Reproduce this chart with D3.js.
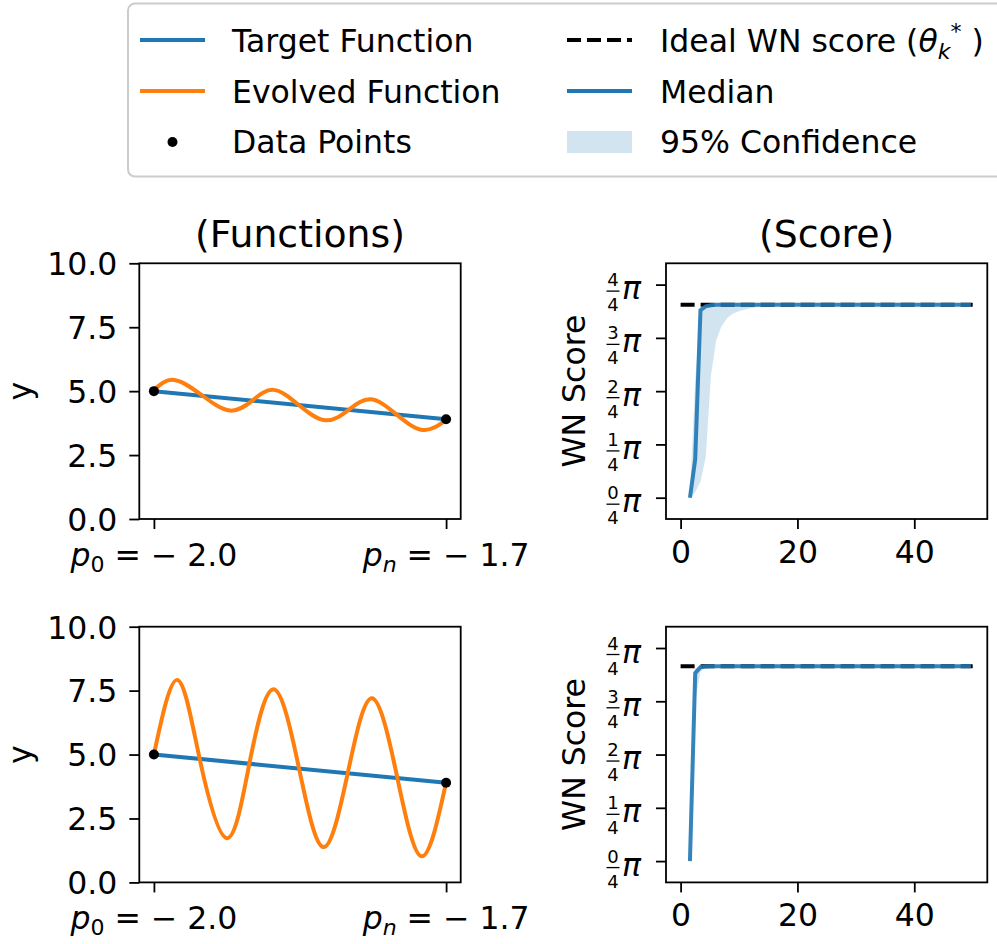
<!DOCTYPE html>
<html>
<head>
<meta charset="utf-8">
<script src="https://cdn.jsdelivr.net/npm/d3@7"></script>
<style>
body { margin: 0; background: #fff; }
text { font-family: "DejaVu Sans", sans-serif; fill: #000; }
</style>
</head>
<body>
<svg id="chart" width="997" height="944"></svg>
<script>
// ---- data ----
var targetX = [-2.0, -1.7];
var targetY = [5.0, 3.9];

var evolvedTopX = [-2.000, -1.979, -1.950, -1.922, -1.899, -1.877, -1.851, -1.824, -1.800, -1.777, -1.751, -1.724, -1.700];
var evolvedTopY = [5.05, 5.44, 4.82, 4.24, 4.63, 5.05, 4.45, 3.86, 4.27, 4.68, 4.09, 3.48, 3.88];
var evolvedBotX = [-2.000, -1.976, -1.953, -1.925, -1.902, -1.877, -1.851, -1.826, -1.801, -1.776, -1.750, -1.725, -1.700];
var evolvedBotY = [5.0, 7.92, 4.83, 1.73, 4.64, 7.55, 4.46, 1.38, 4.27, 7.20, 4.08, 1.02, 3.90];

var fnYTicks = [0, 2.5, 5, 7.5, 10];
var fnXTicks = [-2.0, -1.7];
var fnXTickSubs = ["0", "n"];

// score panels, values in units of pi
var scoreX = [1.6, 2.5, 3.4, 4.3, 5.2, 6.1, 7, 8, 9, 10, 12, 14, 16, 20, 30, 40, 49.7];
var medianTop = [0, 0.18, 0.88, 0.898, 0.903, 0.905, 0.905, 0.905, 0.905, 0.905, 0.905, 0.905, 0.905, 0.905, 0.905, 0.905, 0.905];
var lowerTop  = [0, 0.025, 0.075, 0.19, 0.575, 0.74, 0.805, 0.845, 0.865, 0.875, 0.89, 0.898, 0.903, 0.905, 0.905, 0.905, 0.905];
var upperTop  = [0.012, 0.55, 0.895, 0.905, 0.905, 0.905, 0.905, 0.905, 0.905, 0.905, 0.905, 0.905, 0.905, 0.905, 0.905, 0.905, 0.905];
var medianBot = [0, 0.882, 0.91, 0.913, 0.914, 0.914, 0.914, 0.914, 0.914, 0.914, 0.914, 0.914, 0.914, 0.914, 0.914, 0.914, 0.914];
var lowerBot  = [0, 0.75, 0.888, 0.908, 0.913, 0.914, 0.914, 0.914, 0.914, 0.914, 0.914, 0.914, 0.914, 0.914, 0.914, 0.914, 0.914];
var upperBot  = [0.012, 0.905, 0.915, 0.915, 0.915, 0.915, 0.915, 0.915, 0.915, 0.915, 0.915, 0.915, 0.915, 0.915, 0.915, 0.915, 0.915];
var idealX = [0, 50];
var idealTop = 0.905;
var idealBot = 0.914;

var scoreYTicks = [0, 0.25, 0.5, 0.75, 1.0];
var scoreXTicks = [0, 20, 40];

// ---- layout ----
var FS = 31.5;
var blue = "#1f77b4", orange = "#ff7f0e";
var boxH = 255.7;
var fnBox = [139.3, 460.7], scBox = [666, 987.3];
var svg = d3.select("#chart");

var rows = [
    { top: 263.3, evX: evolvedTopX, evY: evolvedTopY, med: medianTop, lo: lowerTop, hi: upperTop, ideal: idealTop, title: true },
    { top: 626.7, evX: evolvedBotX, evY: evolvedBotY, med: medianBot, lo: lowerBot, hi: upperBot, ideal: idealBot, title: false }
];

function styleAxis(ax){
    ax.select(".domain").remove();
    ax.selectAll(".tick line").attr("stroke", "#000").attr("stroke-width", 1.8);
    ax.selectAll("text").style("font-size", FS + "px").attr("fill", "#000");
}

function drawFunctions(row){
    var bottom = row.top + boxH;
    var x = d3.scaleLinear().domain([-2.015, -1.685]).range(fnBox);
    var y = d3.scaleLinear().domain([0, 10]).range([bottom, row.top]);
    var g = svg.append("g");

    var line = d3.line().x(function(d){ return x(d[0]); }).y(function(d){ return y(d[1]); });

    g.append("path")
        .datum(d3.zip(targetX, targetY))
        .attr("d", line)
        .attr("fill", "none").attr("stroke", blue).attr("stroke-width", 4);

    g.append("path")
        .datum(d3.zip(row.evX, row.evY))
        .attr("d", line.curve(d3.curveNatural))
        .attr("fill", "none").attr("stroke", orange).attr("stroke-width", 4);

    g.selectAll("circle.pt").data(d3.zip(targetX, targetY)).enter()
        .append("circle")
        .attr("cx", function(d){ return x(d[0]); })
        .attr("cy", function(d){ return y(d[1]); })
        .attr("r", 5).attr("fill", "#000");

    var ay = g.append("g").attr("transform", "translate(" + fnBox[0] + ",0)")
        .call(d3.axisLeft(y).tickValues(fnYTicks).tickFormat(d3.format(".1f")).tickSize(10).tickPadding(12));
    styleAxis(ay);
    ay.selectAll("text").attr("dy", "0.36em");

    var ax = g.append("g").attr("transform", "translate(0," + bottom + ")")
        .call(d3.axisBottom(x).tickValues(fnXTicks).tickFormat("").tickSize(10));
    styleAxis(ax);

    fnXTicks.forEach(function(v, i){
        var t = g.append("text")
            .attr("x", x(v)).attr("y", bottom + 47)
            .attr("text-anchor", "middle")
            .style("font-size", FS + "px");
        t.append("tspan").style("font-style", "italic").text("p");
        t.append("tspan").attr("dy", 6)
            .style("font-size", (FS * 0.7) + "px")
            .style("font-style", fnXTickSubs[i] == "n" ? "italic" : "normal")
            .text(fnXTickSubs[i]);
        t.append("tspan").attr("dy", -6).text(" = " + d3.format(".1f")(v).replace("\u2212", "\u2212 "));
    });

    g.append("rect")
        .attr("x", fnBox[0]).attr("y", row.top)
        .attr("width", fnBox[1] - fnBox[0]).attr("height", boxH)
        .attr("fill", "none").attr("stroke", "#000").attr("stroke-width", 1.8);

    g.append("text")
        .attr("transform", "translate(31," + (row.top + boxH / 2) + ") rotate(-90)")
        .attr("text-anchor", "middle")
        .style("font-size", FS + "px")
        .text("y");

    if (row.title) {
        g.append("text")
            .attr("x", (fnBox[0] + fnBox[1]) / 2).attr("y", row.top - 16)
            .attr("text-anchor", "middle")
            .style("font-size", (FS * 1.2) + "px")
            .text("(Functions)");
    }
}

function drawScore(row){
    var bottom = row.top + boxH;
    var x = d3.scaleLinear().domain([-2.5, 52.5]).range(scBox);
    var y = d3.scaleLinear().domain([-0.1, 1.1]).range([bottom, row.top]);
    var g = svg.append("g");

    g.append("line")
        .attr("x1", x(idealX[0])).attr("x2", x(idealX[1]))
        .attr("y1", y(row.ideal)).attr("y2", y(row.ideal))
        .attr("stroke", "#000").attr("stroke-width", 4)
        .attr("stroke-dasharray", "14,6");

    var band = d3.area()
        .x(function(d){ return x(d[0]); })
        .y0(function(d){ return y(d[1]); })
        .y1(function(d){ return y(d[2]); });
    g.append("path")
        .datum(d3.zip(scoreX, row.lo, row.hi))
        .attr("d", band)
        .attr("fill", blue).attr("fill-opacity", 0.2);

    var line = d3.line().x(function(d){ return x(d[0]); }).y(function(d){ return y(d[1]); });
    g.append("path")
        .datum(d3.zip(scoreX, row.med))
        .attr("d", line)
        .attr("fill", "none").attr("stroke", blue).attr("stroke-width", 4)
        .attr("stroke-opacity", 0.9);

    var ay = g.append("g").attr("transform", "translate(" + scBox[0] + ",0)")
        .call(d3.axisLeft(y).tickValues(scoreYTicks).tickFormat("").tickSize(10));
    styleAxis(ay);

    scoreYTicks.forEach(function(v){
        var ty = y(v);
        var fx = scBox[0] - 53;
        g.append("text")
            .attr("x", fx).attr("y", ty + 1.5)
            .attr("text-anchor", "middle").style("font-size", "18px")
            .text(Math.round(v * 4));
        g.append("line")
            .attr("x1", fx - 6.5).attr("x2", fx + 6.5)
            .attr("y1", ty + 6.5).attr("y2", ty + 6.5)
            .attr("stroke", "#000").attr("stroke-width", 1.3);
        g.append("text")
            .attr("x", fx).attr("y", ty + 26.5)
            .attr("text-anchor", "middle").style("font-size", "18px")
            .text("4");
        g.append("text")
            .attr("x", fx + 9).attr("y", ty + 14.5)
            .style("font-size", FS + "px").style("font-style", "italic")
            .text("\u03c0");
    });

    var ax = g.append("g").attr("transform", "translate(0," + bottom + ")")
        .call(d3.axisBottom(x).tickValues(scoreXTicks).tickFormat(d3.format("d")).tickSize(10).tickPadding(11.5));
    styleAxis(ax);

    g.append("rect")
        .attr("x", scBox[0]).attr("y", row.top)
        .attr("width", scBox[1] - scBox[0]).attr("height", boxH)
        .attr("fill", "none").attr("stroke", "#000").attr("stroke-width", 1.8);

    g.append("text")
        .attr("transform", "translate(585," + (row.top + boxH / 2) + ") rotate(-90)")
        .attr("text-anchor", "middle")
        .style("font-size", FS + "px")
        .text("WN Score");

    if (row.title) {
        g.append("text")
            .attr("x", (scBox[0] + scBox[1]) / 2).attr("y", row.top - 16)
            .attr("text-anchor", "middle")
            .style("font-size", (FS * 1.2) + "px")
            .text("(Score)");
    }
}

rows.forEach(function(r){ drawFunctions(r); drawScore(r); });

// ---- legend ----
var lg = svg.append("g");
lg.append("rect")
    .attr("x", 128).attr("y", 3.5).attr("width", 900).attr("height", 173).attr("rx", 7)
    .attr("fill", "#fff").attr("stroke", "#cccccc").attr("stroke-width", 2);

var rowY = [40, 91, 141];
function legendText(x, y, s){
    return lg.append("text").attr("x", x).attr("y", y + 11.5).style("font-size", FS + "px").text(s);
}
lg.append("line").attr("x1", 140).attr("x2", 205).attr("y1", rowY[0]).attr("y2", rowY[0])
    .attr("stroke", blue).attr("stroke-width", 4);
legendText(232, rowY[0], "Target Function");
lg.append("line").attr("x1", 140).attr("x2", 205).attr("y1", rowY[1]).attr("y2", rowY[1])
    .attr("stroke", orange).attr("stroke-width", 4);
legendText(232, rowY[1], "Evolved Function");
lg.append("circle").attr("cx", 172.5).attr("cy", rowY[2] + 1).attr("r", 5).attr("fill", "#000");
legendText(232, rowY[2], "Data Points");

lg.append("line").attr("x1", 567).attr("x2", 632).attr("y1", rowY[0]).attr("y2", rowY[0])
    .attr("stroke", "#000").attr("stroke-width", 4).attr("stroke-dasharray", "14,6");
var it = legendText(660, rowY[0], "Ideal WN score (");
it.append("tspan").style("font-style", "italic").text("\u03b8");
it.append("tspan").attr("dy", 7).style("font-size", (FS * 0.7) + "px").style("font-style", "italic").text("k");
it.append("tspan").attr("dy", -20).style("font-size", (FS * 0.7) + "px").text("*");
it.append("tspan").attr("dy", 13).text(" )");

lg.append("line").attr("x1", 567).attr("x2", 632).attr("y1", rowY[1]).attr("y2", rowY[1])
    .attr("stroke", blue).attr("stroke-width", 4);
legendText(660, rowY[1], "Median");
lg.append("rect").attr("x", 567).attr("y", 131).attr("width", 65).attr("height", 22)
    .attr("fill", blue).attr("fill-opacity", 0.2);
legendText(660, rowY[2], "95% Confidence");
</script>
</body>
</html>
